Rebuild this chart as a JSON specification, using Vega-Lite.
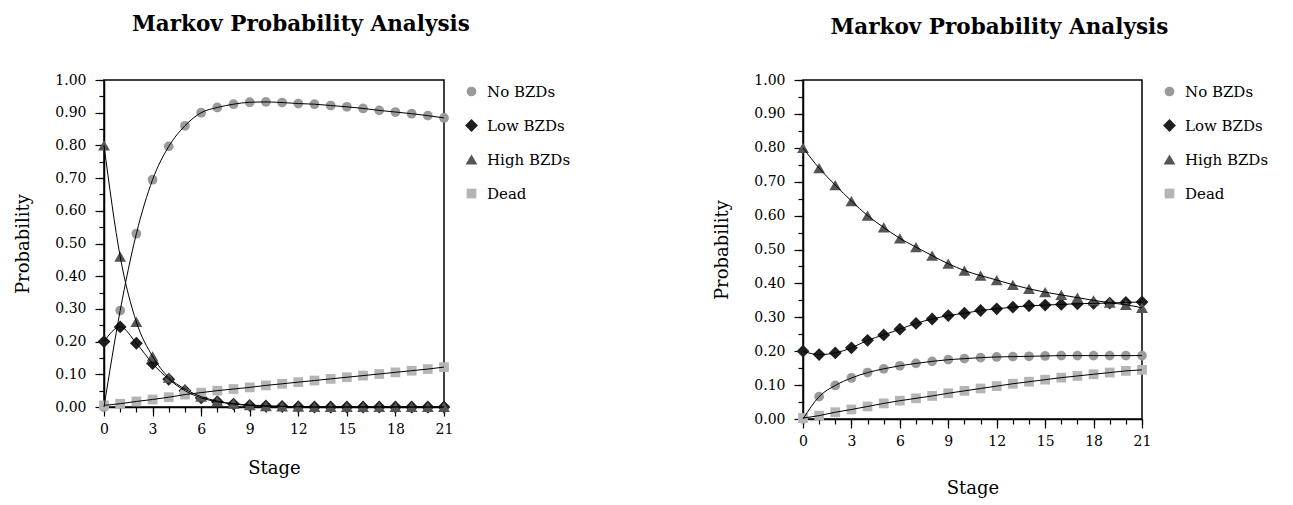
{
  "$schema": "https://vega.github.io/schema/vega-lite/v6.json",
  "background": "white",
  "padding": {"left": 14, "top": 12, "right": 5, "bottom": 5},
  "config": {
    "font": "DejaVu Serif",
    "view": {"stroke": "black", "strokeWidth": 1.5},
    "axis": {
      "domainColor": "black", "domainWidth": 1.5, "tickColor": "black", "tickWidth": 1.2,
      "labelColor": "black", "titleColor": "black",
      "labelFont": "DejaVu Serif", "titleFont": "DejaVu Serif",
      "labelFontSize": 14, "titleFontSize": 18, "titleFontWeight": "normal", "grid": false
    },
    "legend": {
      "title": null, "labelFont": "DejaVu Serif", "labelFontSize": 15, "labelColor": "black",
      "rowPadding": 18, "offset": 14, "labelOffset": 8, "padding": 4
    },
    "title": {"font": "DejaVu Serif", "fontSize": 21.5, "fontWeight": "bold", "color": "black", "anchor": "middle", "frame": "bounds", "offset": 38, "dx": 6}
  },
  "datasets": {
    "left": [
      {"stage": 0, "series": "No BZDs", "p": 0.0}, {"stage": 1, "series": "No BZDs", "p": 0.295}, {"stage": 2, "series": "No BZDs", "p": 0.53}, {"stage": 3, "series": "No BZDs", "p": 0.695}, {"stage": 4, "series": "No BZDs", "p": 0.797}, {"stage": 5, "series": "No BZDs", "p": 0.86}, {"stage": 6, "series": "No BZDs", "p": 0.9}, {"stage": 7, "series": "No BZDs", "p": 0.916}, {"stage": 8, "series": "No BZDs", "p": 0.926}, {"stage": 9, "series": "No BZDs", "p": 0.932}, {"stage": 10, "series": "No BZDs", "p": 0.933}, {"stage": 11, "series": "No BZDs", "p": 0.931}, {"stage": 12, "series": "No BZDs", "p": 0.928}, {"stage": 13, "series": "No BZDs", "p": 0.926}, {"stage": 14, "series": "No BZDs", "p": 0.922}, {"stage": 15, "series": "No BZDs", "p": 0.918}, {"stage": 16, "series": "No BZDs", "p": 0.913}, {"stage": 17, "series": "No BZDs", "p": 0.907}, {"stage": 18, "series": "No BZDs", "p": 0.902}, {"stage": 19, "series": "No BZDs", "p": 0.897}, {"stage": 20, "series": "No BZDs", "p": 0.891}, {"stage": 21, "series": "No BZDs", "p": 0.884},
      {"stage": 0, "series": "Low BZDs", "p": 0.2}, {"stage": 1, "series": "Low BZDs", "p": 0.245}, {"stage": 2, "series": "Low BZDs", "p": 0.195}, {"stage": 3, "series": "Low BZDs", "p": 0.133}, {"stage": 4, "series": "Low BZDs", "p": 0.085}, {"stage": 5, "series": "Low BZDs", "p": 0.05}, {"stage": 6, "series": "Low BZDs", "p": 0.028}, {"stage": 7, "series": "Low BZDs", "p": 0.016}, {"stage": 8, "series": "Low BZDs", "p": 0.009}, {"stage": 9, "series": "Low BZDs", "p": 0.005}, {"stage": 10, "series": "Low BZDs", "p": 0.003}, {"stage": 11, "series": "Low BZDs", "p": 0.002}, {"stage": 12, "series": "Low BZDs", "p": 0.001}, {"stage": 13, "series": "Low BZDs", "p": 0.0}, {"stage": 14, "series": "Low BZDs", "p": 0.0}, {"stage": 15, "series": "Low BZDs", "p": 0.0}, {"stage": 16, "series": "Low BZDs", "p": 0.0}, {"stage": 17, "series": "Low BZDs", "p": 0.0}, {"stage": 18, "series": "Low BZDs", "p": 0.0}, {"stage": 19, "series": "Low BZDs", "p": 0.0}, {"stage": 20, "series": "Low BZDs", "p": 0.0}, {"stage": 21, "series": "Low BZDs", "p": 0.0},
      {"stage": 0, "series": "High BZDs", "p": 0.8}, {"stage": 1, "series": "High BZDs", "p": 0.46}, {"stage": 2, "series": "High BZDs", "p": 0.26}, {"stage": 3, "series": "High BZDs", "p": 0.155}, {"stage": 4, "series": "High BZDs", "p": 0.09}, {"stage": 5, "series": "High BZDs", "p": 0.055}, {"stage": 6, "series": "High BZDs", "p": 0.032}, {"stage": 7, "series": "High BZDs", "p": 0.018}, {"stage": 8, "series": "High BZDs", "p": 0.01}, {"stage": 9, "series": "High BZDs", "p": 0.006}, {"stage": 10, "series": "High BZDs", "p": 0.003}, {"stage": 11, "series": "High BZDs", "p": 0.002}, {"stage": 12, "series": "High BZDs", "p": 0.001}, {"stage": 13, "series": "High BZDs", "p": 0.0}, {"stage": 14, "series": "High BZDs", "p": 0.0}, {"stage": 15, "series": "High BZDs", "p": 0.0}, {"stage": 16, "series": "High BZDs", "p": 0.0}, {"stage": 17, "series": "High BZDs", "p": 0.0}, {"stage": 18, "series": "High BZDs", "p": 0.0}, {"stage": 19, "series": "High BZDs", "p": 0.0}, {"stage": 20, "series": "High BZDs", "p": 0.0}, {"stage": 21, "series": "High BZDs", "p": 0.0},
      {"stage": 0, "series": "Dead", "p": 0.005}, {"stage": 1, "series": "Dead", "p": 0.01}, {"stage": 2, "series": "Dead", "p": 0.017}, {"stage": 3, "series": "Dead", "p": 0.023}, {"stage": 4, "series": "Dead", "p": 0.03}, {"stage": 5, "series": "Dead", "p": 0.038}, {"stage": 6, "series": "Dead", "p": 0.044}, {"stage": 7, "series": "Dead", "p": 0.05}, {"stage": 8, "series": "Dead", "p": 0.055}, {"stage": 9, "series": "Dead", "p": 0.06}, {"stage": 10, "series": "Dead", "p": 0.066}, {"stage": 11, "series": "Dead", "p": 0.071}, {"stage": 12, "series": "Dead", "p": 0.076}, {"stage": 13, "series": "Dead", "p": 0.081}, {"stage": 14, "series": "Dead", "p": 0.086}, {"stage": 15, "series": "Dead", "p": 0.091}, {"stage": 16, "series": "Dead", "p": 0.096}, {"stage": 17, "series": "Dead", "p": 0.101}, {"stage": 18, "series": "Dead", "p": 0.106}, {"stage": 19, "series": "Dead", "p": 0.111}, {"stage": 20, "series": "Dead", "p": 0.116}, {"stage": 21, "series": "Dead", "p": 0.122}
    ],
    "right": [
      {"stage": 0, "series": "No BZDs", "p": 0.0}, {"stage": 1, "series": "No BZDs", "p": 0.066}, {"stage": 2, "series": "No BZDs", "p": 0.099}, {"stage": 3, "series": "No BZDs", "p": 0.121}, {"stage": 4, "series": "No BZDs", "p": 0.137}, {"stage": 5, "series": "No BZDs", "p": 0.148}, {"stage": 6, "series": "No BZDs", "p": 0.157}, {"stage": 7, "series": "No BZDs", "p": 0.164}, {"stage": 8, "series": "No BZDs", "p": 0.17}, {"stage": 9, "series": "No BZDs", "p": 0.175}, {"stage": 10, "series": "No BZDs", "p": 0.178}, {"stage": 11, "series": "No BZDs", "p": 0.181}, {"stage": 12, "series": "No BZDs", "p": 0.183}, {"stage": 13, "series": "No BZDs", "p": 0.184}, {"stage": 14, "series": "No BZDs", "p": 0.185}, {"stage": 15, "series": "No BZDs", "p": 0.186}, {"stage": 16, "series": "No BZDs", "p": 0.187}, {"stage": 17, "series": "No BZDs", "p": 0.187}, {"stage": 18, "series": "No BZDs", "p": 0.187}, {"stage": 19, "series": "No BZDs", "p": 0.187}, {"stage": 20, "series": "No BZDs", "p": 0.187}, {"stage": 21, "series": "No BZDs", "p": 0.187},
      {"stage": 0, "series": "Low BZDs", "p": 0.2}, {"stage": 1, "series": "Low BZDs", "p": 0.19}, {"stage": 2, "series": "Low BZDs", "p": 0.195}, {"stage": 3, "series": "Low BZDs", "p": 0.21}, {"stage": 4, "series": "Low BZDs", "p": 0.232}, {"stage": 5, "series": "Low BZDs", "p": 0.248}, {"stage": 6, "series": "Low BZDs", "p": 0.265}, {"stage": 7, "series": "Low BZDs", "p": 0.282}, {"stage": 8, "series": "Low BZDs", "p": 0.295}, {"stage": 9, "series": "Low BZDs", "p": 0.305}, {"stage": 10, "series": "Low BZDs", "p": 0.312}, {"stage": 11, "series": "Low BZDs", "p": 0.32}, {"stage": 12, "series": "Low BZDs", "p": 0.325}, {"stage": 13, "series": "Low BZDs", "p": 0.33}, {"stage": 14, "series": "Low BZDs", "p": 0.334}, {"stage": 15, "series": "Low BZDs", "p": 0.336}, {"stage": 16, "series": "Low BZDs", "p": 0.338}, {"stage": 17, "series": "Low BZDs", "p": 0.34}, {"stage": 18, "series": "Low BZDs", "p": 0.341}, {"stage": 19, "series": "Low BZDs", "p": 0.342}, {"stage": 20, "series": "Low BZDs", "p": 0.344}, {"stage": 21, "series": "Low BZDs", "p": 0.345},
      {"stage": 0, "series": "High BZDs", "p": 0.8}, {"stage": 1, "series": "High BZDs", "p": 0.74}, {"stage": 2, "series": "High BZDs", "p": 0.69}, {"stage": 3, "series": "High BZDs", "p": 0.643}, {"stage": 4, "series": "High BZDs", "p": 0.6}, {"stage": 5, "series": "High BZDs", "p": 0.565}, {"stage": 6, "series": "High BZDs", "p": 0.533}, {"stage": 7, "series": "High BZDs", "p": 0.507}, {"stage": 8, "series": "High BZDs", "p": 0.482}, {"stage": 9, "series": "High BZDs", "p": 0.458}, {"stage": 10, "series": "High BZDs", "p": 0.438}, {"stage": 11, "series": "High BZDs", "p": 0.423}, {"stage": 12, "series": "High BZDs", "p": 0.41}, {"stage": 13, "series": "High BZDs", "p": 0.396}, {"stage": 14, "series": "High BZDs", "p": 0.384}, {"stage": 15, "series": "High BZDs", "p": 0.374}, {"stage": 16, "series": "High BZDs", "p": 0.366}, {"stage": 17, "series": "High BZDs", "p": 0.358}, {"stage": 18, "series": "High BZDs", "p": 0.35}, {"stage": 19, "series": "High BZDs", "p": 0.343}, {"stage": 20, "series": "High BZDs", "p": 0.337}, {"stage": 21, "series": "High BZDs", "p": 0.328},
      {"stage": 0, "series": "Dead", "p": 0.003}, {"stage": 1, "series": "Dead", "p": 0.01}, {"stage": 2, "series": "Dead", "p": 0.02}, {"stage": 3, "series": "Dead", "p": 0.028}, {"stage": 4, "series": "Dead", "p": 0.037}, {"stage": 5, "series": "Dead", "p": 0.046}, {"stage": 6, "series": "Dead", "p": 0.054}, {"stage": 7, "series": "Dead", "p": 0.061}, {"stage": 8, "series": "Dead", "p": 0.068}, {"stage": 9, "series": "Dead", "p": 0.076}, {"stage": 10, "series": "Dead", "p": 0.083}, {"stage": 11, "series": "Dead", "p": 0.09}, {"stage": 12, "series": "Dead", "p": 0.097}, {"stage": 13, "series": "Dead", "p": 0.104}, {"stage": 14, "series": "Dead", "p": 0.11}, {"stage": 15, "series": "Dead", "p": 0.116}, {"stage": 16, "series": "Dead", "p": 0.122}, {"stage": 17, "series": "Dead", "p": 0.127}, {"stage": 18, "series": "Dead", "p": 0.132}, {"stage": 19, "series": "Dead", "p": 0.137}, {"stage": 20, "series": "Dead", "p": 0.142}, {"stage": 21, "series": "Dead", "p": 0.145}
    ]
  },
  "spacing": 137,
  "resolve": {"scale": {"color": "independent", "shape": "independent", "size": "independent"}, "legend": {"color": "independent", "shape": "independent", "size": "independent"}},
  "hconcat": [
    {
      "title": {"text": "Markov Probability Analysis"},
      "width": 340,
      "height": 327,
      "data": {"name": "left"},
      "resolve": {"axis": {"x": "independent", "y": "independent"}},
      "layer": [
        {
          "mark": {"type": "point", "filled": true, "opacity": 1},
          "encoding": {
            "x": {"field": "stage", "type": "quantitative", "scale": {"domain": [0, 21], "nice": false, "zero": false}, "axis": {"title": "Stage", "values": [0, 3, 6, 9, 12, 15, 18, 21], "tickSize": 9, "labelPadding": 6, "titlePadding": 23, "labelFlush": false}},
            "y": {"field": "p", "type": "quantitative", "scale": {"domain": [0, 1], "nice": false}, "axis": {"title": "Probability", "values": [0, 0.1, 0.2, 0.3, 0.4, 0.5, 0.6, 0.7, 0.8, 0.9, 1.0], "format": ".2f", "tickSize": 9, "labelPadding": 9, "titlePadding": 22, "labelFlush": false}},
            "color": {"field": "series", "type": "nominal", "scale": {"domain": ["No BZDs", "Low BZDs", "High BZDs", "Dead"], "range": ["#9a9a9a", "#1e1e1e", "#555555", "#b5b5b5"]}},
            "shape": {"field": "series", "type": "nominal", "scale": {"domain": ["No BZDs", "Low BZDs", "High BZDs", "Dead"], "range": ["circle", "diamond", "triangle-up", "square"]}},
            "size": {"field": "series", "type": "nominal", "scale": {"type": "ordinal", "domain": ["No BZDs", "Low BZDs", "High BZDs", "Dead"], "range": [95, 165, 140, 95]}}
          }
        },
        {
          "mark": {"type": "line", "color": "black", "strokeWidth": 1, "interpolate": "monotone"},
          "encoding": {
            "x": {"field": "stage", "type": "quantitative", "scale": {"domain": [0, 21], "nice": false, "zero": false}, "axis": {"orient": "bottom", "title": null, "labels": false, "domain": false, "values": [0,1,2,3,4,5,6,7,8,9,10,11,12,13,14,15,16,17,18,19,20,21], "tickSize": 5}},
            "y": {"field": "p", "type": "quantitative", "scale": {"domain": [0, 1], "nice": false}, "axis": {"orient": "left", "title": null, "labels": false, "domain": false, "values": [0, 0.05, 0.1, 0.15, 0.2, 0.25, 0.3, 0.35, 0.4, 0.45, 0.5, 0.55, 0.6, 0.65, 0.7, 0.75, 0.8, 0.85, 0.9, 0.95, 1.0], "tickSize": 5}},
            "detail": {"field": "series", "type": "nominal"}
          }
        }
      ]
    },
    {
      "title": {"text": "Markov Probability Analysis", "offset": 35},
      "width": 339,
      "height": 339,
      "data": {"name": "right"},
      "resolve": {"axis": {"x": "independent", "y": "independent"}},
      "layer": [
        {
          "mark": {"type": "point", "filled": true, "opacity": 1},
          "encoding": {
            "x": {"field": "stage", "type": "quantitative", "scale": {"domain": [0, 21], "nice": false, "zero": false}, "axis": {"title": "Stage", "values": [0, 3, 6, 9, 12, 15, 18, 21], "tickSize": 9, "labelPadding": 6, "titlePadding": 31, "labelFlush": false}},
            "y": {"field": "p", "type": "quantitative", "scale": {"domain": [0, 1], "nice": false}, "axis": {"title": "Probability", "values": [0, 0.1, 0.2, 0.3, 0.4, 0.5, 0.6, 0.7, 0.8, 0.9, 1.0], "format": ".2f", "tickSize": 9, "labelPadding": 9, "titlePadding": 22, "labelFlush": false}},
            "color": {"field": "series", "type": "nominal", "scale": {"domain": ["No BZDs", "Low BZDs", "High BZDs", "Dead"], "range": ["#9a9a9a", "#1e1e1e", "#555555", "#b5b5b5"]}},
            "shape": {"field": "series", "type": "nominal", "scale": {"domain": ["No BZDs", "Low BZDs", "High BZDs", "Dead"], "range": ["circle", "diamond", "triangle-up", "square"]}},
            "size": {"field": "series", "type": "nominal", "scale": {"type": "ordinal", "domain": ["No BZDs", "Low BZDs", "High BZDs", "Dead"], "range": [95, 165, 140, 95]}}
          }
        },
        {
          "mark": {"type": "line", "color": "black", "strokeWidth": 1, "interpolate": "monotone"},
          "encoding": {
            "x": {"field": "stage", "type": "quantitative", "scale": {"domain": [0, 21], "nice": false, "zero": false}, "axis": {"orient": "bottom", "title": null, "labels": false, "domain": false, "values": [0,1,2,3,4,5,6,7,8,9,10,11,12,13,14,15,16,17,18,19,20,21], "tickSize": 5}},
            "y": {"field": "p", "type": "quantitative", "scale": {"domain": [0, 1], "nice": false}, "axis": {"orient": "left", "title": null, "labels": false, "domain": false, "values": [0, 0.05, 0.1, 0.15, 0.2, 0.25, 0.3, 0.35, 0.4, 0.45, 0.5, 0.55, 0.6, 0.65, 0.7, 0.75, 0.8, 0.85, 0.9, 0.95, 1.0], "tickSize": 5}},
            "detail": {"field": "series", "type": "nominal"}
          }
        }
      ]
    }
  ]
}
